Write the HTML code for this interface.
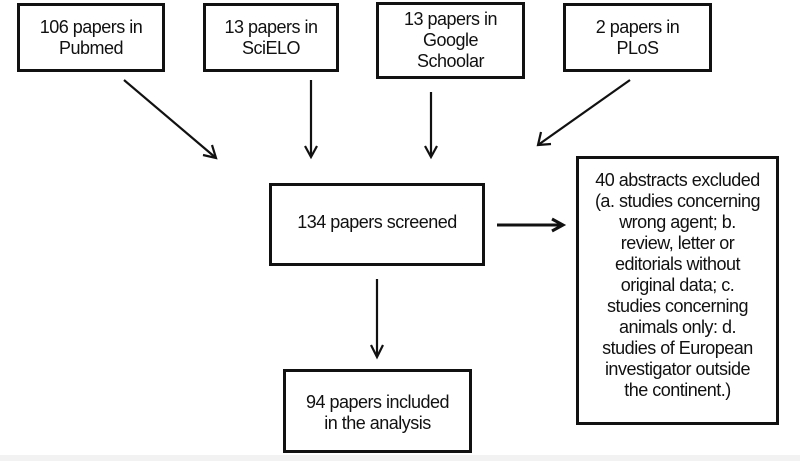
<!DOCTYPE html>
<html><head><style>
body{margin:0;width:800px;height:461px;background:#fff;position:relative;overflow:hidden;font-family:"Liberation Sans",sans-serif;color:#111}
.b{position:absolute;border:3px solid #111;box-sizing:border-box;display:flex;align-items:center;justify-content:center;text-align:center;font-size:18px;line-height:21px;letter-spacing:-0.5px;white-space:nowrap}
</style></head><body>
<div class="b" style="left:17px;top:3px;width:148px;height:69px">106 papers in<br>Pubmed</div>
<div class="b" style="left:203px;top:3px;width:136px;height:69px">13 papers in<br>SciELO</div>
<div class="b" style="left:376px;top:2px;width:149px;height:77px">13 papers in<br>Google<br>Schoolar</div>
<div class="b" style="left:563px;top:3px;width:149px;height:69px">2 papers in<br>PLoS</div>
<div class="b" style="left:269px;top:183px;width:216px;height:83px;padding-bottom:4px">134 papers screened</div>
<div class="b" style="left:576px;top:156px;width:203px;height:269px;padding-bottom:10px">40 abstracts excluded<br>(a. studies concerning<br>wrong agent; b.<br>review, letter or<br>editorials without<br>original data; c.<br>studies concerning<br>animals only: d.<br>studies of European<br>investigator outside<br>the continent.)</div>
<div class="b" style="left:283px;top:369px;width:189px;height:84px;padding-top:4px">94 papers included<br>in the analysis</div>
<div style="position:absolute;left:0;top:455px;width:800px;height:6px;background:#f2f2f2"></div>
<svg width="800" height="461" style="position:absolute;left:0;top:0" fill="none" stroke="#111" stroke-width="2.2">
<line x1="124" y1="80" x2="216" y2="158"/><polyline points="203,155 216,158 212,145"/>
<line x1="311" y1="80" x2="311" y2="156"/><polyline points="305,146 311,157 317,146"/>
<line x1="431" y1="92" x2="431" y2="156"/><polyline points="425,146 431,157 437,146"/>
<line x1="630" y1="80" x2="538" y2="145"/><polyline points="541,132 538,145 551,144"/>
<line x1="497" y1="225" x2="562" y2="225" stroke-width="3"/><polyline points="552,219 563,225 552,231" stroke-width="3"/>
<line x1="377" y1="279" x2="377" y2="356"/><polyline points="371,345 377,357 383,345"/>
</svg>
</body></html>
